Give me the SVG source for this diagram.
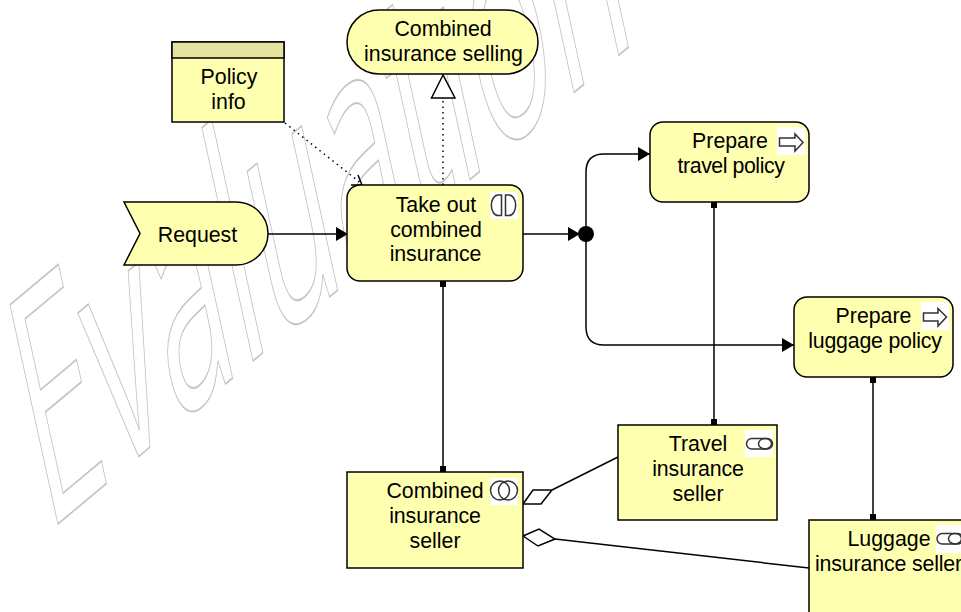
<svg xmlns="http://www.w3.org/2000/svg" width="961" height="612" viewBox="0 0 961 612">
<defs>
<style>
.n{fill:#ffffb0;stroke:#000;stroke-width:1.5}
.t{font-family:"Liberation Sans",Arial,sans-serif;font-size:21.33px;fill:#000;text-anchor:middle}
.c{fill:none;stroke:#000;stroke-width:1.5}
.d{fill:none;stroke:#000;stroke-width:1.5;stroke-dasharray:1.5 4}
.i{fill:none;stroke:#333;stroke-width:1.5}
.b{fill:#fff;stroke:none}
.a{fill:#000;stroke:none}
.wm{font-family:"Open Sans",sans-serif;font-size:100px;fill:none;stroke:#c4c4c4;stroke-width:1.5px}
</style>
<marker id="sq" markerWidth="6" markerHeight="6" refX="3" refY="3" markerUnits="userSpaceOnUse"><rect width="6" height="6" fill="#000"/></marker>
<marker id="arr" markerWidth="13" markerHeight="14" refX="12" refY="7" orient="auto" markerUnits="userSpaceOnUse"><path d="M0 0L12 7L0 14Z" fill="#000"/></marker>
</defs>
<rect width="961" height="612" fill="#fff"/>
<text class="wm" style="vector-effect:non-scaling-stroke" transform="matrix(1.22 -1.02 0.672 3.07 46 534)" vector-effect="non-scaling-stroke">Evaluation</text>
<g id="connectors">
<path class="c" d="M268 234H348" marker-end="url(#arr)"/>
<path class="c" d="M523 234H580" marker-end="url(#arr)"/>
<path class="c" d="M586 234V172Q586 154 604 154H650" marker-end="url(#arr)"/>
<path class="c" d="M586 234V327Q586 345 604 345H794" marker-end="url(#arr)"/>
<path class="c" d="M443 284V469" marker-start="url(#sq)" marker-end="url(#sq)"/>
<path class="c" d="M714 205V422" marker-start="url(#sq)" marker-end="url(#sq)"/>
<path class="c" d="M873 380V517" marker-start="url(#sq)" marker-end="url(#sq)"/>
<path class="d" d="M443 185V98"/>
<path class="n" style="fill:#fff" d="M443 75L431.500 98H455Z"/>
<path class="d" d="M285 123L362 184"/>
<path class="c" d="M358 175L362 185L351 185"/>
<path class="c" d="M552 490L618 457"/>
<path class="c" style="fill:#fff" d="M523 504L533 490H552L541 504Z"/>
<path class="c" d="M555 539L809 568"/>
<path class="c" style="fill:#fff" d="M523 536L539 529L555 539L538 546Z"/>
<circle id="junction" cx="586" cy="234" r="8" fill="#000"/>
</g>
<g id="selling"><rect class="n" x="347" y="10" width="191" height="64" rx="32"/><text class="t" x="443" y="36">Combined</text><text class="t" x="443.500" y="61">insurance selling</text></g>
<g id="policy"><rect class="n" x="172" y="42" width="112" height="80"/><rect class="n" style="fill:#e4e4a0" x="172" y="42" width="112" height="16"/><text class="t" x="229" y="84">Policy</text><text class="t" x="228.500" y="109">info</text></g>
<g id="request"><path class="n" d="M124 202H236A32 31.500 0 0 1 236 265H124L140 233.500Z"/><text class="t" x="197.500" y="242">Request</text></g>
<g id="takeout"><rect class="n" x="347" y="185" width="176" height="96" rx="13"/><rect class="b" x="490" y="192" width="28" height="27"/><path class="i" d="M501.500 195H498A6.500 10 0 0 0 498 215.500H501.500ZM505.500 195H509A6.500 10 0 0 1 509 215.500H505.500Z"/><text class="t" x="436" y="212">Take out</text><text class="t" x="436" y="237" style="letter-spacing:-.1px">combined</text><text class="t" x="435.500" y="261" style="letter-spacing:-.1px">insurance</text></g>
<g id="travelpolicy"><rect class="n" x="650" y="122" width="159" height="80" rx="13"/><rect class="b" x="777" y="127" width="28" height="28"/><path class="i" d="M779.500 138H795V134L803 142.500L795 151V146H779.500Z"/><text class="t" x="730" y="148">Prepare</text><text class="t" x="731" y="173" style="letter-spacing:-.45px">travel policy</text></g>
<g id="luggagepolicy"><rect class="n" x="794" y="297" width="159" height="80" rx="13"/><rect class="b" x="921" y="302" width="28" height="28"/><path class="i" d="M923.500 313H938V308.500L946.500 317L938 326V321H923.500Z"/><text class="t" x="873.500" y="323">Prepare</text><text class="t" x="875" y="348" style="letter-spacing:-.2px">luggage policy</text></g>
<g id="combinedseller"><rect class="n" x="347" y="472" width="176" height="96"/><rect class="b" x="490" y="478" width="28" height="27"/><circle class="i" cx="500" cy="490.500" r="9.500"/><circle class="i" cx="508" cy="490.500" r="9.500"/><text class="t" x="435" y="498">Combined</text><text class="t" x="435" y="523" style="letter-spacing:-.1px">insurance</text><text class="t" x="435" y="548">seller</text></g>
<g id="travelseller"><rect class="n" x="618" y="425" width="159" height="95"/><rect class="b" x="745" y="430" width="28" height="27"/><rect class="i" x="746.500" y="438.500" width="26" height="10.500" rx="5.250"/><ellipse class="i" cx="765" cy="443.700" rx="6.500" ry="5.250"/><text class="t" x="698" y="451">Travel</text><text class="t" x="698" y="476" style="letter-spacing:-.1px">insurance</text><text class="t" x="698" y="501">seller</text></g>
<g id="luggageseller"><rect class="n" x="809" y="520" width="176" height="96"/><rect class="b" x="936" y="525" width="28" height="28"/><rect class="i" x="937" y="533.500" width="26" height="10.500" rx="5.250"/><ellipse class="i" cx="955" cy="538.700" rx="6.500" ry="5.250"/><text class="t" x="889" y="546">Luggage</text><text class="t" x="888.500" y="571" style="letter-spacing:-.15px">insurance seller</text></g>
</svg>
